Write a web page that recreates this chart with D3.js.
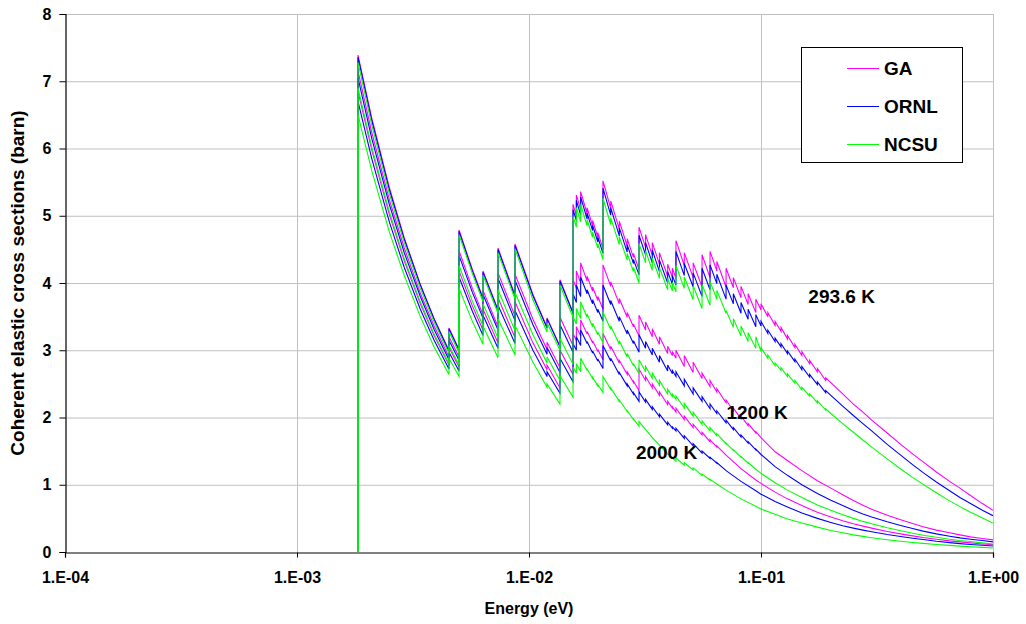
<!DOCTYPE html>
<html>
<head>
<meta charset="utf-8">
<script src="https://cdn.jsdelivr.net/npm/d3@7"></script>
<style>
body { margin: 0; background: #fff; }
text { font-family: "Liberation Sans", Arial, sans-serif; font-weight: bold; fill: #000; }
</style>
</head>
<body>
<svg id="chart" width="1026" height="624"></svg>
<script>
// energy (eV), cross section (barn), Bragg edges given twice (before / after the jump)
var ga293 = [
[0.001832,0],[0.001832,7.39],[0.0021,6.45],[0.0025,5.42],[0.0029,4.67],[0.0034,3.98],[0.0039,3.47],
[0.004519,3.00],[0.004519,3.33],[0.004993,3.01],[0.004993,4.79],[0.0057,4.20],
[0.006334,3.78],[0.006334,4.18],[0.007352,3.60],[0.007352,4.52],
[0.008703,3.82],[0.008703,4.58],[0.0104,3.83],[0.01196,3.34],[0.01196,3.48],
[0.0136,3.06],[0.0136,4.05],[0.01548,3.56],[0.01548,5.17],
[0.016,5.00],[0.016,5.31],[0.0167,5.09],[0.0167,5.36],[0.0178,5.03],[0.0178,5.12],
[0.0188,4.85],[0.0188,4.93],[0.0198,4.68],[0.0198,4.75],[0.02084,4.51],[0.02084,5.52],
[0.0225,5.11],[0.0225,5.22],[0.0245,4.80],[0.0245,4.92],[0.0265,4.55],[0.0265,4.66],
[0.0282,4.38],[0.0282,4.44],[0.0298,4.20],[0.0298,4.83],
[0.0318,4.53],[0.0318,4.72],[0.034,4.41],[0.034,4.60],[0.0365,4.28],[0.0365,4.45],
[0.0396,4.10],[0.0396,4.28],[0.0415,4.08],[0.0415,4.22],[0.043,4.07],[0.043,4.63],
[0.0467,4.26],[0.0467,4.45],[0.051,4.08],[0.051,4.30],[0.0557,3.94],[0.0557,4.42],
[0.0603,4.08],[0.0603,4.47],[0.0645,4.18],[0.0645,4.32],[0.0707,3.94],[0.0707,4.22],
[0.076,3.93],[0.076,4.08],[0.082,3.78],[0.082,3.95],[0.088,3.68],[0.088,3.84],
[0.095,3.56],[0.095,3.76],[0.1,3.60],[0.1,3.69],[0.107,3.50],[0.107,3.56],
[0.115,3.37],[0.115,3.43],[0.122,3.28],[0.122,3.34],[0.13,3.17],[0.13,3.22],
[0.14,3.04],[0.14,3.09],[0.15,2.92],[0.15,2.98],[0.162,2.80],[0.162,2.85],
[0.175,2.68],[0.175,2.73],[0.19,2.55],[0.19,2.59],[0.2,2.52],
[0.225,2.35],[0.25,2.20],[0.275,2.08],[0.3,1.96],[0.35,1.77],[0.4,1.60],[0.45,1.46],
[0.5,1.34],[0.57,1.19],[0.65,1.05],[0.72,0.95],[0.8,0.84],[0.9,0.72],[1.0,0.62]
];
var ornl293 = [
[0.001832,0],[0.001832,7.36],[0.0021,6.42],[0.0025,5.39],[0.0029,4.65],[0.0034,3.97],[0.0039,3.46],
[0.004519,2.98],[0.004519,3.32],[0.004993,3.00],[0.004993,4.77],[0.0057,4.18],
[0.006334,3.76],[0.006334,4.16],[0.007352,3.59],[0.007352,4.50],
[0.008703,3.80],[0.008703,4.56],[0.0104,3.81],[0.01196,3.33],[0.01196,3.47],
[0.0136,3.05],[0.0136,4.03],[0.01548,3.55],[0.01548,5.09],
[0.016,4.93],[0.016,5.23],[0.0167,5.01],[0.0167,5.28],[0.0178,4.95],[0.0178,5.04],
[0.0188,4.78],[0.0188,4.86],[0.0198,4.61],[0.0198,4.68],[0.02084,4.44],[0.02084,5.41],
[0.0225,5.01],[0.0225,5.12],[0.0245,4.70],[0.0245,4.82],[0.0265,4.46],[0.0265,4.57],
[0.0282,4.29],[0.0282,4.35],[0.0298,4.12],[0.0298,4.71],
[0.0318,4.42],[0.0318,4.60],[0.034,4.30],[0.034,4.49],[0.0365,4.17],[0.0365,4.34],
[0.0396,4.00],[0.0396,4.17],[0.0415,3.98],[0.0415,4.11],[0.043,3.97],[0.043,4.47],
[0.0467,4.11],[0.0467,4.29],[0.051,3.94],[0.051,4.15],[0.0557,3.80],[0.0557,4.22],
[0.0603,3.90],[0.0603,4.27],[0.0645,3.99],[0.0645,4.13],[0.0707,3.76],[0.0707,3.97],
[0.076,3.69],[0.076,3.84],[0.082,3.55],[0.082,3.71],[0.088,3.46],[0.088,3.61],
[0.095,3.35],[0.095,3.53],[0.1,3.36],[0.1,3.43],[0.107,3.25],[0.107,3.30],
[0.115,3.13],[0.115,3.18],[0.122,3.05],[0.122,3.10],[0.13,2.95],[0.13,2.99],
[0.14,2.83],[0.14,2.87],[0.15,2.71],[0.15,2.76],[0.162,2.60],[0.162,2.64],
[0.175,2.49],[0.175,2.53],[0.19,2.37],[0.19,2.40],[0.2,2.33],
[0.225,2.17],[0.25,2.03],[0.275,1.91],[0.3,1.80],[0.35,1.60],[0.4,1.44],[0.45,1.30],
[0.5,1.18],[0.57,1.04],[0.65,0.91],[0.72,0.81],[0.8,0.72],[0.9,0.62],[1.0,0.54]
];
var ncsu293 = [
[0.001832,0],[0.001832,7.28],[0.0021,6.35],[0.0025,5.33],[0.0029,4.60],[0.0034,3.92],[0.0039,3.42],
[0.004519,2.95],[0.004519,3.28],[0.004993,2.96],[0.004993,4.72],[0.0057,4.14],
[0.006334,3.72],[0.006334,4.12],[0.007352,3.55],[0.007352,4.45],
[0.008703,3.76],[0.008703,4.51],[0.0104,3.75],[0.01196,3.27],[0.01196,3.41],
[0.0136,3.00],[0.0136,3.97],[0.01548,3.49],[0.01548,4.99],
[0.016,4.83],[0.016,5.12],[0.0167,4.91],[0.0167,5.17],[0.0178,4.85],[0.0178,4.94],
[0.0188,4.68],[0.0188,4.76],[0.0198,4.52],[0.0198,4.58],[0.02084,4.35],[0.02084,5.26],
[0.0225,4.87],[0.0225,4.97],[0.0245,4.57],[0.0245,4.69],[0.0265,4.34],[0.0265,4.44],
[0.0282,4.17],[0.0282,4.23],[0.0298,4.00],[0.0298,4.59],
[0.0318,4.30],[0.0318,4.48],[0.034,4.19],[0.034,4.37],[0.0365,4.07],[0.0365,4.23],
[0.0396,3.90],[0.0396,4.07],[0.0415,3.88],[0.0415,4.01],[0.043,3.87],[0.043,4.26],
[0.0467,3.92],[0.0467,4.09],[0.051,3.75],[0.051,3.96],[0.0557,3.62],[0.0557,3.98],
[0.0603,3.67],[0.0603,4.02],[0.0645,3.76],[0.0645,3.89],[0.0707,3.55],[0.0707,3.59],
[0.076,3.34],[0.076,3.47],[0.082,3.21],[0.082,3.36],[0.088,3.13],[0.088,3.26],
[0.095,3.03],[0.095,3.20],[0.1,2.98],[0.1,3.04],[0.107,2.88],[0.107,2.93],
[0.115,2.77],[0.115,2.81],[0.122,2.70],[0.122,2.74],[0.13,2.61],[0.13,2.65],
[0.14,2.51],[0.14,2.55],[0.15,2.41],[0.15,2.45],[0.162,2.32],[0.162,2.35],
[0.175,2.22],[0.175,2.25],[0.19,2.11],[0.19,2.13],[0.2,2.06],
[0.225,1.91],[0.25,1.78],[0.275,1.665],[0.3,1.56],[0.35,1.385],[0.4,1.235],[0.45,1.11],
[0.5,1.005],[0.57,0.88],[0.65,0.76],[0.72,0.675],[0.8,0.59],[0.9,0.505],[1.0,0.43]
];
var ga1200 = [
[0.001832,0],[0.001832,7.15],[0.0021,6.24],[0.0025,5.24],[0.0029,4.52],[0.0034,3.85],[0.0039,3.36],
[0.004519,2.90],[0.004519,3.20],[0.004993,2.90],[0.004993,4.48],[0.0057,3.92],
[0.006334,3.53],[0.006334,3.89],[0.007352,3.35],[0.007352,4.15],
[0.008703,3.51],[0.008703,4.13],[0.0104,3.46],[0.01196,3.01],[0.01196,3.12],
[0.0136,2.74],[0.0136,3.49],[0.01548,3.07],[0.01548,4.05],
[0.016,3.92],[0.016,4.18],[0.0167,4.00],[0.0167,4.30],[0.0178,4.03],[0.0178,4.10],
[0.0188,3.88],[0.0188,3.94],[0.0198,3.74],[0.0198,3.80],[0.02084,3.61],[0.02084,4.27],
[0.0225,3.95],[0.0225,4.02],[0.0245,3.69],[0.0245,3.77],[0.0265,3.49],[0.0265,3.56],
[0.0282,3.35],[0.0282,3.39],[0.0298,3.21],[0.0298,3.52],
[0.0318,3.30],[0.0318,3.42],[0.034,3.20],[0.034,3.32],[0.0365,3.09],[0.0365,3.20],
[0.0396,2.95],[0.0396,3.06],[0.0415,2.92],[0.0415,2.98],[0.043,2.88],[0.043,3.00],
[0.0467,2.76],[0.0467,2.92],[0.051,2.67],[0.051,2.82],[0.0557,2.58],[0.0557,2.66],
[0.0603,2.46],[0.0603,2.55],[0.0645,2.38],[0.0645,2.43],[0.0707,2.22],[0.0707,2.26],
[0.076,2.10],[0.076,2.14],[0.082,1.98],[0.082,2.02],[0.088,1.88],[0.088,1.91],
[0.095,1.77],[0.095,1.79],[0.1,1.70],[0.115,1.49],[0.13,1.36],[0.15,1.21],
[0.175,1.06],[0.2,0.95],[0.225,0.85],[0.25,0.765],[0.275,0.695],[0.3,0.635],[0.35,0.545],[0.4,0.48],
[0.45,0.425],[0.5,0.375],[0.57,0.325],[0.65,0.285],[0.72,0.255],[0.8,0.225],[0.9,0.20],[1.0,0.18]
];
var ornl1200 = [
[0.001832,0],[0.001832,7.05],[0.0021,6.15],[0.0025,5.17],[0.0029,4.45],[0.0034,3.80],[0.0039,3.31],
[0.004519,2.86],[0.004519,3.15],[0.004993,2.85],[0.004993,4.41],[0.0057,3.86],
[0.006334,3.48],[0.006334,3.83],[0.007352,3.30],[0.007352,4.07],
[0.008703,3.44],[0.008703,4.04],[0.0104,3.38],[0.01196,2.94],[0.01196,3.04],
[0.0136,2.67],[0.0136,3.38],[0.01548,2.97],[0.01548,3.84],
[0.016,3.71],[0.016,3.97],[0.0167,3.80],[0.0167,4.09],[0.0178,3.84],[0.0178,3.90],
[0.0188,3.69],[0.0188,3.75],[0.0198,3.56],[0.0198,3.61],[0.02084,3.43],[0.02084,3.97],
[0.0225,3.68],[0.0225,3.74],[0.0245,3.43],[0.0245,3.50],[0.0265,3.24],[0.0265,3.30],
[0.0282,3.10],[0.0282,3.14],[0.0298,2.97],[0.0298,3.23],
[0.0318,3.03],[0.0318,3.13],[0.034,2.93],[0.034,3.03],[0.0365,2.82],[0.0365,2.92],
[0.0396,2.69],[0.0396,2.78],[0.0415,2.65],[0.0415,2.70],[0.043,2.61],[0.043,2.68],
[0.0467,2.47],[0.0467,2.57],[0.051,2.35],[0.051,2.44],[0.0557,2.24],[0.0557,2.31],
[0.0603,2.13],[0.0603,2.20],[0.0645,2.06],[0.0645,2.10],[0.0707,1.92],[0.0707,1.96],
[0.076,1.82],[0.076,1.85],[0.082,1.71],[0.082,1.74],[0.088,1.62],[0.088,1.64],
[0.095,1.52],[0.095,1.53],[0.1,1.45],[0.115,1.27],[0.13,1.14],[0.15,1.00],
[0.175,0.87],[0.2,0.77],[0.225,0.69],[0.25,0.62],[0.275,0.565],[0.3,0.52],[0.35,0.45],[0.4,0.395],
[0.45,0.35],[0.5,0.31],[0.57,0.27],[0.65,0.235],[0.72,0.21],[0.8,0.19],[0.9,0.17],[1.0,0.15]
];
var ncsu1200 = [
[0.001832,0],[0.001832,6.90],[0.0021,6.02],[0.0025,5.06],[0.0029,4.36],[0.0034,3.72],[0.0039,3.24],
[0.004519,2.80],[0.004519,3.07],[0.004993,2.78],[0.004993,4.26],[0.0057,3.73],
[0.006334,3.36],[0.006334,3.69],[0.007352,3.18],[0.007352,3.90],
[0.008703,3.29],[0.008703,3.86],[0.0104,3.23],[0.01196,2.81],[0.01196,2.90],
[0.0136,2.55],[0.0136,3.18],[0.01548,2.79],[0.01548,3.50],
[0.016,3.39],[0.016,3.62],[0.0167,3.47],[0.0167,3.72],[0.0178,3.49],[0.0178,3.54],
[0.0188,3.35],[0.0188,3.40],[0.0198,3.23],[0.0198,3.27],[0.02084,3.11],[0.02084,3.57],
[0.0225,3.31],[0.0225,3.36],[0.0245,3.09],[0.0245,3.14],[0.0265,2.90],[0.0265,2.95],
[0.0282,2.77],[0.0282,2.80],[0.0298,2.65],[0.0298,2.86],
[0.0318,2.68],[0.0318,2.76],[0.034,2.58],[0.034,2.66],[0.0365,2.48],[0.0365,2.55],
[0.0396,2.35],[0.0396,2.42],[0.0415,2.31],[0.0415,2.35],[0.043,2.27],[0.043,2.32],
[0.0467,2.14],[0.0467,2.21],[0.051,2.02],[0.051,2.08],[0.0557,1.90],[0.0557,1.95],
[0.0603,1.80],[0.0603,1.85],[0.0645,1.73],[0.0645,1.76],[0.0707,1.61],[0.0707,1.62],
[0.076,1.51],[0.076,1.52],[0.082,1.41],[0.082,1.42],[0.088,1.32],[0.088,1.33],
[0.095,1.23],[0.1,1.17],[0.115,1.03],[0.13,0.92],[0.15,0.81],
[0.175,0.70],[0.2,0.62],[0.225,0.555],[0.25,0.50],[0.275,0.455],[0.3,0.42],[0.35,0.36],[0.4,0.315],
[0.45,0.28],[0.5,0.25],[0.57,0.22],[0.65,0.19],[0.72,0.17],[0.8,0.155],[0.9,0.135],[1.0,0.12]
];
var ga2000 = [
[0.001832,0],[0.001832,6.85],[0.0021,5.98],[0.0025,5.02],[0.0029,4.33],[0.0034,3.69],[0.0039,3.22],
[0.004519,2.78],[0.004519,3.04],[0.004993,2.75],[0.004993,4.18],[0.0057,3.66],
[0.006334,3.30],[0.006334,3.61],[0.007352,3.11],[0.007352,3.78],
[0.008703,3.19],[0.008703,3.72],[0.0104,3.11],[0.01196,2.71],[0.01196,2.78],
[0.0136,2.44],[0.0136,3.00],[0.01548,2.64],[0.01548,3.25],
[0.016,3.14],[0.016,3.35],[0.0167,3.21],[0.0167,3.45],[0.0178,3.24],[0.0178,3.28],
[0.0188,3.11],[0.0188,3.14],[0.0198,2.98],[0.0198,3.01],[0.02084,2.86],[0.02084,3.25],
[0.0225,3.01],[0.0225,3.06],[0.0245,2.81],[0.0245,2.85],[0.0265,2.64],[0.0265,2.68],
[0.0282,2.52],[0.0282,2.54],[0.0298,2.40],[0.0298,2.72],
[0.0318,2.55],[0.0318,2.61],[0.034,2.44],[0.034,2.50],[0.0365,2.33],[0.0365,2.38],
[0.0396,2.19],[0.0396,2.24],[0.0415,2.14],[0.0415,2.16],[0.043,2.08],[0.043,2.14],
[0.0467,1.97],[0.0467,2.02],[0.051,1.85],[0.051,1.90],[0.0557,1.74],[0.0557,1.78],
[0.0603,1.64],[0.0603,1.67],[0.0645,1.56],[0.0645,1.58],[0.0707,1.44],
[0.082,1.24],[0.095,1.07],[0.1,1.02],[0.115,0.89],[0.13,0.79],[0.15,0.69],
[0.175,0.59],[0.2,0.52],[0.225,0.465],[0.25,0.42],[0.275,0.385],[0.3,0.355],[0.35,0.305],[0.4,0.27],
[0.45,0.24],[0.5,0.215],[0.57,0.19],[0.65,0.165],[0.72,0.15],[0.8,0.135],[0.9,0.12],[1.0,0.11]
];
var ornl2000 = [
[0.001832,0],[0.001832,6.70],[0.0021,5.85],[0.0025,4.91],[0.0029,4.23],[0.0034,3.61],[0.0039,3.15],
[0.004519,2.72],[0.004519,2.97],[0.004993,2.69],[0.004993,4.09],[0.0057,3.58],
[0.006334,3.22],[0.006334,3.52],[0.007352,3.03],[0.007352,3.67],
[0.008703,3.10],[0.008703,3.59],[0.0104,3.00],[0.01196,2.61],[0.01196,2.68],
[0.0136,2.36],[0.0136,2.88],[0.01548,2.53],[0.01548,3.10],
[0.016,3.00],[0.016,3.20],[0.0167,3.07],[0.0167,3.30],[0.0178,3.10],[0.0178,3.13],
[0.0188,2.96],[0.0188,2.99],[0.0198,2.84],[0.0198,2.87],[0.02084,2.73],[0.02084,3.07],
[0.0225,2.84],[0.0225,2.88],[0.0245,2.64],[0.0245,2.67],[0.0265,2.47],[0.0265,2.50],
[0.0282,2.35],[0.0282,2.37],[0.0298,2.24],[0.0298,2.38],
[0.0318,2.23],[0.0318,2.27],[0.034,2.12],[0.034,2.16],[0.0365,2.01],[0.0365,2.05],
[0.0396,1.89],[0.0396,1.93],[0.0415,1.84],[0.0415,1.86],[0.043,1.80],[0.043,1.84],
[0.0467,1.69],[0.0467,1.73],[0.051,1.58],[0.051,1.61],[0.0557,1.47],[0.0557,1.50],
[0.0603,1.39],[0.0603,1.41],[0.0645,1.32],[0.0645,1.33],[0.0707,1.21],
[0.082,1.05],[0.095,0.91],[0.1,0.86],[0.115,0.75],[0.13,0.67],[0.15,0.58],
[0.175,0.50],[0.2,0.44],[0.225,0.39],[0.25,0.355],[0.275,0.325],[0.3,0.30],[0.35,0.26],[0.4,0.23],
[0.45,0.205],[0.5,0.185],[0.57,0.16],[0.65,0.14],[0.72,0.125],[0.8,0.112],[0.9,0.10],[1.0,0.09]
];
var ncsu2000 = [
[0.001832,0],[0.001832,6.50],[0.0021,5.67],[0.0025,4.76],[0.0029,4.11],[0.0034,3.50],[0.0039,3.05],
[0.004519,2.64],[0.004519,2.88],[0.004993,2.61],[0.004993,3.92],[0.0057,3.43],
[0.006334,3.09],[0.006334,3.36],[0.007352,2.89],[0.007352,3.47],
[0.008703,2.93],[0.008703,3.37],[0.0104,2.82],[0.01196,2.45],[0.01196,2.50],
[0.0136,2.20],[0.0136,2.62],[0.01548,2.30],[0.01548,2.75],
[0.016,2.66],[0.016,2.80],[0.0167,2.68],[0.0167,2.88],[0.0178,2.70],[0.0178,2.72],
[0.0188,2.58],[0.0188,2.60],[0.0198,2.47],[0.0198,2.49],[0.02084,2.37],[0.02084,2.61],
[0.0225,2.42],[0.0225,2.44],[0.0245,2.24],[0.0245,2.26],[0.0265,2.09],[0.0265,2.10],
[0.0282,1.97],[0.0282,1.98],[0.0298,1.87],[0.0298,1.94],
[0.034,1.70],[0.0365,1.59],[0.0396,1.46],[0.043,1.35],[0.043,1.40],
[0.0467,1.29],[0.0467,1.33],[0.051,1.22],[0.051,1.25],[0.0557,1.14],[0.0557,1.16],
[0.0603,1.07],[0.0603,1.08],[0.0645,1.01],[0.0707,0.92],
[0.082,0.79],[0.095,0.68],[0.1,0.64],[0.115,0.56],[0.13,0.49],[0.15,0.43],
[0.175,0.37],[0.2,0.32],[0.225,0.285],[0.25,0.255],[0.275,0.232],[0.3,0.213],[0.35,0.183],[0.4,0.16],
[0.45,0.142],[0.5,0.128],[0.57,0.112],[0.65,0.098],[0.72,0.088],[0.8,0.079],[0.9,0.069],[1.0,0.06]
];

var evaluations = ['GA', 'ORNL', 'NCSU'];
var evalColors = ['#ff00ff', '#0000ff', '#00ff00'];
var temperatures = ['293.6 K', '1200 K', '2000 K'];
var xTicks = [1e-4, 1e-3, 1e-2, 1e-1, 1];
var xTickLabels = ['1.E-04', '1.E-03', '1.E-02', '1.E-01', '1.E+00'];
var yTicks = [0, 1, 2, 3, 4, 5, 6, 7, 8];

// order: all GA first, then ORNL, then NCSU (green ends up on top)
var seriesData = [
	[ga293, ga1200, ga2000],
	[ornl293, ornl1200, ornl2000],
	[ncsu293, ncsu1200, ncsu2000]
];

var svgDimensions = { width: 1026, height: 624 };
var margin = { left: 65, right: 33, top: 14, bottom: 72 };
var plot = {
	left: margin.left,
	right: svgDimensions.width - margin.right,
	top: margin.top,
	bottom: svgDimensions.height - margin.bottom
};

var svg = d3.select('#chart');

var x = d3.scaleLog()
	.domain([1e-4, 1])
	.range([plot.left, plot.right]);
var y = d3.scaleLinear()
	.domain([0, 8])
	.range([plot.bottom, plot.top]);

// grid
svg.append('g')
	.attr('class', 'ygrid')
	.selectAll('line')
	.data(yTicks.filter(d => d > 0))
	.enter()
	.append('line')
	.attr('x1', plot.left)
	.attr('x2', plot.right)
	.attr('y1', d => y(d) + 0.5)
	.attr('y2', d => y(d) + 0.5)
	.attr('stroke', '#c0c0c0')
	.attr('stroke-width', 1);

svg.append('g')
	.attr('class', 'xgrid')
	.selectAll('line')
	.data(xTicks.slice(1))
	.enter()
	.append('line')
	.attr('x1', d => Math.round(x(d)) + 0.5)
	.attr('x2', d => Math.round(x(d)) + 0.5)
	.attr('y1', plot.top)
	.attr('y2', plot.bottom)
	.attr('stroke', '#c0c0c0')
	.attr('stroke-width', 1);

// curves
svg.append('clipPath')
	.attr('id', 'plotClip')
	.append('rect')
	.attr('x', plot.left)
	.attr('y', plot.top - 2)
	.attr('width', plot.right - plot.left)
	.attr('height', plot.bottom - plot.top + 2);

var line = d3.line()
	.x(d => x(d[0]))
	.y(d => y(d[1]));

var curvesG = svg.append('g')
	.attr('clip-path', 'url(#plotClip)');

seriesData.forEach(function(group, i) {
	curvesG.selectAll('path.s' + i)
		.data(group)
		.enter()
		.append('path')
		.attr('class', 's' + i)
		.attr('d', line)
		.attr('fill', 'none')
		.attr('stroke', evalColors[i])
		.attr('stroke-width', 1.1);
});

// axes
var yAxis = d3.axisLeft(y)
	.tickValues(yTicks)
	.tickSize(6)
	.tickFormat(d3.format('d'));
var yAxisG = svg.append('g')
	.attr('transform', 'translate(' + (plot.left + 0.5) + ',0)')
	.call(yAxis);

var xAxis = d3.axisBottom(x)
	.tickValues(xTicks)
	.tickSize(5)
	.tickFormat((d, i) => xTickLabels[i]);
var xAxisG = svg.append('g')
	.attr('transform', 'translate(0,' + (plot.bottom + 0.5) + ')')
	.call(xAxis);

[yAxisG, xAxisG].forEach(function(g) {
	g.select('.domain').attr('stroke', '#000').attr('stroke-width', 1.2);
	g.selectAll('.tick line').attr('stroke', '#000');
	g.selectAll('.tick text')
		.attr('font-size', 16)
		.attr('font-family', '"Liberation Sans", Arial, sans-serif')
		.attr('font-weight', 'bold')
		.attr('fill', '#000');
});
yAxisG.selectAll('.tick text').attr('x', -14);
xAxisG.selectAll('.tick text').attr('y', 19);

// axis titles
svg.append('text')
	.attr('x', (plot.left + plot.right) / 2)
	.attr('y', 614)
	.attr('text-anchor', 'middle')
	.attr('font-size', 16)
	.text('Energy (eV)');

svg.append('text')
	.attr('transform', 'translate(24,' + ((plot.top + plot.bottom) / 2) + ') rotate(-90)')
	.attr('text-anchor', 'middle')
	.attr('font-size', 19)
	.text('Coherent elastic cross sections (barn)');

// temperature labels
var tempLabelPos = [[0.16, 303], [0.071, 419], [0.0289, 459]];
svg.selectAll('text.temp')
	.data(temperatures)
	.enter()
	.append('text')
	.attr('class', 'temp')
	.attr('x', (d, i) => x(tempLabelPos[i][0]))
	.attr('y', (d, i) => tempLabelPos[i][1])
	.attr('font-size', 19)
	.text(d => d);

// legend
var legend = { x: 801, y: 47, width: 161, height: 115, rowStart: 68, rowStep: 38 };
var legendG = svg.append('g');
legendG.append('rect')
	.attr('x', legend.x + 0.5)
	.attr('y', legend.y + 0.5)
	.attr('width', legend.width)
	.attr('height', legend.height)
	.attr('fill', '#fff')
	.attr('stroke', '#000')
	.attr('stroke-width', 1);

var rows = legendG.selectAll('g.row')
	.data(evaluations)
	.enter()
	.append('g')
	.attr('class', 'row')
	.attr('transform', (d, i) => 'translate(0,' + (legend.rowStart + i * legend.rowStep) + ')');
rows.append('line')
	.attr('x1', 847)
	.attr('x2', 879)
	.attr('y1', 0.5)
	.attr('y2', 0.5)
	.attr('stroke', (d, i) => evalColors[i])
	.attr('stroke-width', 1);
rows.append('text')
	.attr('x', 884)
	.attr('y', 7)
	.attr('font-size', 19)
	.text(d => d);
</script>
</body>
</html>
